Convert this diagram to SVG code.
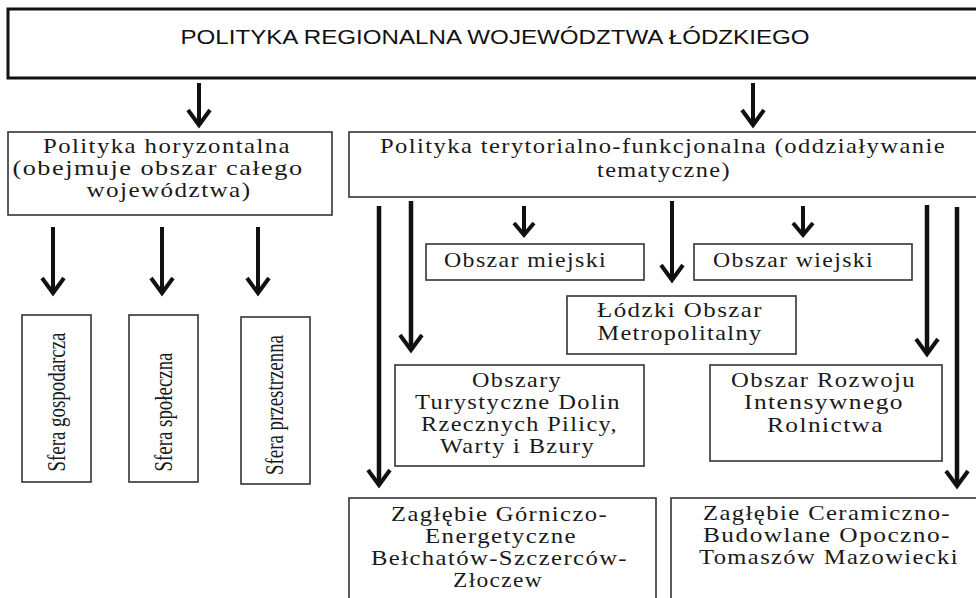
<svg xmlns="http://www.w3.org/2000/svg" width="976" height="598" viewBox="0 0 976 598">
<style>
.box{fill:#fff;stroke:#333;stroke-width:1.6}
.title{fill:#fff;stroke:#111;stroke-width:3}
.t{font-family:"Liberation Serif","Times New Roman",serif;font-size:21px;letter-spacing:1.2px;fill:#1a1a1a;text-anchor:middle}
.v{font-family:"Liberation Serif","Times New Roman",serif;font-size:25px;fill:#1a1a1a;text-anchor:middle}
.h{font-family:"Liberation Sans",Arial,sans-serif;font-size:21px;fill:#111;text-anchor:middle}
.c{fill:none;stroke:#111;stroke-width:4}
.c2{fill:none;stroke:#111;stroke-width:4.5}
</style>
<defs>
<marker id="ah" markerUnits="userSpaceOnUse" markerWidth="40" markerHeight="40" viewBox="-20 -20 40 40" refX="0" refY="0" orient="auto" overflow="visible">
<polyline points="-15,-11 0,0 -15,11" fill="none" stroke="#111" stroke-width="4"/>
</marker>
<marker id="ahs" markerUnits="userSpaceOnUse" markerWidth="40" markerHeight="40" viewBox="-20 -20 40 40" refX="0" refY="0" orient="auto" overflow="visible">
<polyline points="-12,-10 0,0 -12,10" fill="none" stroke="#111" stroke-width="4"/>
</marker>
</defs>
<rect width="976" height="598" fill="#fff"/>

<g id="title">
<rect class="title" x="8" y="9" width="975" height="69"/>
<text class="h" x="495" y="44" textLength="629" lengthAdjust="spacingAndGlyphs">POLITYKA REGIONALNA WOJEWÓDZTWA ŁÓDZKIEGO</text>
</g>

<g id="horyzontalna">
<rect class="box" x="8" y="132" width="324" height="83"/>
<text class="t" x="167" y="153" textLength="248" lengthAdjust="spacingAndGlyphs">Polityka horyzontalna</text>
<text class="t" x="158" y="175" textLength="291" lengthAdjust="spacingAndGlyphs">(obejmuje obszar całego</text>
<text class="t" x="169" y="197" textLength="165" lengthAdjust="spacingAndGlyphs">województwa)</text>
</g>

<g id="sfera-gospodarcza">
<rect class="box" x="22" y="315" width="69" height="167"/>
<text class="v" transform="translate(65,402) rotate(-90)" textLength="139" lengthAdjust="spacingAndGlyphs">Sfera gospodarcza</text>
</g>
<g id="sfera-spoleczna">
<rect class="box" x="129" y="315" width="69" height="167"/>
<text class="v" transform="translate(172,412) rotate(-90)" textLength="119" lengthAdjust="spacingAndGlyphs">Sfera społeczna</text>
</g>
<g id="sfera-przestrzenna">
<rect class="box" x="241" y="317" width="69" height="167"/>
<text class="v" transform="translate(283,405) rotate(-90)" textLength="140" lengthAdjust="spacingAndGlyphs">Sfera przestrzenna</text>
</g>

<g id="terytorialna">
<rect class="box" x="349" y="132" width="634" height="65"/>
<text class="t" x="663" y="153" textLength="566" lengthAdjust="spacingAndGlyphs">Polityka terytorialno-funkcjonalna (oddziaływanie</text>
<text class="t" x="664" y="177" textLength="134" lengthAdjust="spacingAndGlyphs">tematyczne)</text>
</g>

<g id="miejski">
<rect class="box" x="426" y="244" width="218" height="36"/>
<text class="t" x="525.5" y="267" textLength="163" lengthAdjust="spacingAndGlyphs">Obszar miejski</text>
</g>
<g id="wiejski">
<rect class="box" x="694" y="244" width="218" height="36"/>
<text class="t" x="793.5" y="267" textLength="161" lengthAdjust="spacingAndGlyphs">Obszar wiejski</text>
</g>

<g id="lom">
<rect class="box" x="567" y="296" width="229" height="58"/>
<text class="t" x="680" y="317" textLength="166" lengthAdjust="spacingAndGlyphs">Łódzki Obszar</text>
<text class="t" x="680" y="340" textLength="165" lengthAdjust="spacingAndGlyphs">Metropolitalny</text>
</g>

<g id="turystyczne">
<rect class="box" x="395" y="365" width="249" height="101"/>
<text class="t" x="517" y="387" textLength="90" lengthAdjust="spacingAndGlyphs">Obszary</text>
<text class="t" x="518" y="409" textLength="206" lengthAdjust="spacingAndGlyphs">Turystyczne Dolin</text>
<text class="t" x="519.5" y="431" textLength="197" lengthAdjust="spacingAndGlyphs">Rzecznych Pilicy,</text>
<text class="t" x="517.5" y="453" textLength="155" lengthAdjust="spacingAndGlyphs">Warty i Bzury</text>
</g>

<g id="rolnictwo">
<rect class="box" x="710" y="365" width="232" height="96"/>
<text class="t" x="823.5" y="387" textLength="185" lengthAdjust="spacingAndGlyphs">Obszar Rozwoju</text>
<text class="t" x="824" y="409" textLength="160" lengthAdjust="spacingAndGlyphs">Intensywnego</text>
<text class="t" x="825.5" y="432" textLength="117" lengthAdjust="spacingAndGlyphs">Rolnictwa</text>
</g>

<g id="gorniczo">
<rect class="box" x="349" y="498" width="307" height="110"/>
<text class="t" x="499.5" y="521" textLength="217" lengthAdjust="spacingAndGlyphs">Zagłębie Górniczo-</text>
<text class="t" x="501" y="543" textLength="152" lengthAdjust="spacingAndGlyphs">Energetyczne</text>
<text class="t" x="499.5" y="565" textLength="257" lengthAdjust="spacingAndGlyphs">Bełchatów-Szczerców-</text>
<text class="t" x="498" y="587" textLength="90" lengthAdjust="spacingAndGlyphs">Złoczew</text>
</g>

<g id="ceramiczno">
<rect class="box" x="671" y="498" width="320" height="110"/>
<text class="t" x="827" y="520" textLength="248" lengthAdjust="spacingAndGlyphs">Zagłębie Ceramiczno-</text>
<text class="t" x="827" y="542" textLength="248" lengthAdjust="spacingAndGlyphs">Budowlane Opoczno-</text>
<text class="t" x="829" y="564" textLength="260" lengthAdjust="spacingAndGlyphs">Tomaszów Mazowiecki</text>
</g>

<g id="connectors">
<line class="c" x1="199" y1="83" x2="199" y2="125" marker-end="url(#ah)"/>
<line class="c" x1="753" y1="83" x2="753" y2="125" marker-end="url(#ah)"/>
<line class="c" x1="53" y1="227" x2="53" y2="293" marker-end="url(#ah)"/>
<line class="c" x1="162" y1="227" x2="162" y2="293" marker-end="url(#ah)"/>
<line class="c" x1="258" y1="227" x2="258" y2="293" marker-end="url(#ah)"/>
<line class="c" x1="524" y1="206" x2="524" y2="235" marker-end="url(#ahs)"/>
<line class="c" x1="803" y1="206" x2="803" y2="235" marker-end="url(#ahs)"/>
<line class="c" x1="672" y1="201" x2="672" y2="280" marker-end="url(#ah)"/>
<line class="c2" x1="379" y1="206" x2="379" y2="485" marker-end="url(#ah)"/>
<line class="c2" x1="411" y1="201" x2="411" y2="350" marker-end="url(#ah)"/>
<line class="c2" x1="927" y1="205" x2="927" y2="354" marker-end="url(#ah)"/>
<line class="c2" x1="957" y1="207" x2="957" y2="486" marker-end="url(#ah)"/>
</g>
</svg>
